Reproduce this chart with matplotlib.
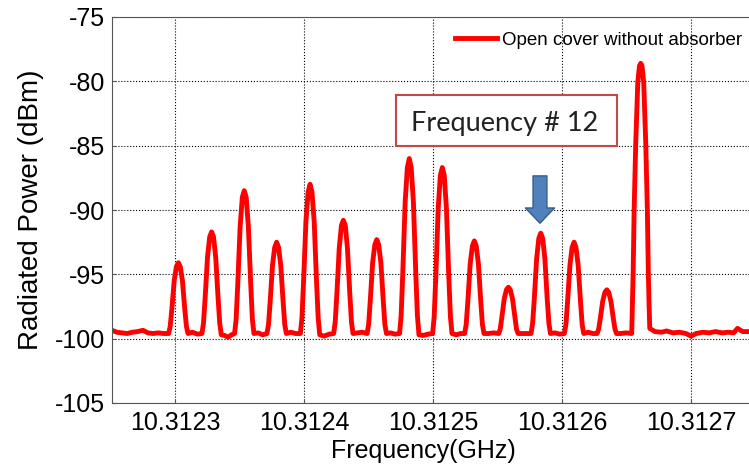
import numpy as np
import matplotlib
matplotlib.use('Agg')
import matplotlib.pyplot as plt
from matplotlib.patches import Rectangle

plt.rcParams['font.family'] = ['Liberation Sans', 'DejaVu Sans']
plt.rcParams['axes.unicode_minus'] = False

# spectrum trace
# frequency as offset from 10.3123 GHz in kHz, power in dBm
f0_ghz = 10.3123
trace = [
  # left noise floor
  (-48.8, -99.35), (-45.0, -99.5), (-41.0, -99.55), (-37.0, -99.6), (-33.0, -99.5), (-29.0, -99.45),
  (-24.8, -99.35), (-21.0, -99.55), (-17.0, -99.6), (-13.0, -99.55), (-9.0, -99.6),
  # peak 1
  (-4.9, -99.6), (-3.7, -99.05), (-2.4, -97.7), (-0.6, -95.5), (1.1, -94.4), (2.6, -94.1),
  (4.1, -94.4), (5.8, -95.5), (7.6, -97.7), (8.9, -99.05), (10.1, -99.6),
  (13.5, -99.5), (17.5, -99.65),
  # peak 2
  (20.9, -99.6), (22.1, -98.8), (23.4, -96.8), (25.2, -93.7), (26.9, -92.1), (28.4, -91.7),
  (29.9, -92.1), (31.6, -93.7), (33.4, -96.8), (34.7, -98.8), (35.9, -99.7),
  (38.5, -99.75), (41.1, -99.9), (43.8, -99.7),
  # peak 3
  (46.2, -99.6), (47.4, -98.5), (48.7, -95.7), (50.5, -91.3), (52.2, -89.0), (53.7, -88.5),
  (55.2, -89.0), (56.9, -91.3), (58.7, -95.7), (60.0, -98.5), (61.2, -99.6),
  (64.5, -99.55), (68.0, -99.7),
  # peak 4
  (71.3, -99.6), (72.5, -98.9), (73.8, -97.1), (75.6, -94.3), (77.3, -92.9), (78.8, -92.5),
  (80.3, -92.9), (82.0, -94.3), (83.8, -97.1), (85.1, -98.9), (86.3, -99.6),
  (89.8, -99.5), (93.5, -99.6),
  # peak 5
  (97.2, -99.6), (98.4, -98.4), (99.7, -95.5), (101.5, -90.9), (103.2, -88.6), (104.7, -88.0),
  (106.2, -88.6), (107.9, -90.9), (109.7, -95.5), (111.0, -98.4), (112.2, -99.7),
  (115.5, -99.8), (119.5, -99.65),
  # peak 6
  (123.0, -99.6), (124.2, -98.7), (125.5, -96.5), (127.3, -93.0), (129.0, -91.2), (130.5, -90.8),
  (132.0, -91.2), (133.7, -93.0), (135.5, -96.5), (136.8, -98.7), (138.0, -99.6),
  (141.5, -99.55), (145.0, -99.5),
  # peak 7
  (148.9, -99.6), (150.1, -98.9), (151.4, -97.0), (153.2, -94.1), (154.9, -92.7), (156.4, -92.3),
  (157.9, -92.7), (159.6, -94.1), (161.4, -97.0), (162.7, -98.9), (163.9, -99.6),
  (167.0, -99.55), (170.5, -99.65),
  # peak 8
  (174.1, -99.6), (175.3, -98.2), (176.6, -94.8), (178.4, -89.4), (180.1, -86.7), (181.6, -86.0),
  (183.1, -86.7), (184.8, -89.4), (186.6, -94.8), (187.9, -98.2), (189.1, -99.7),
  (192.5, -99.75), (196.0, -99.65),
  # peak 9
  (199.7, -99.6), (200.9, -98.3), (202.2, -95.1), (204.0, -89.9), (205.7, -87.3), (207.2, -86.7),
  (208.7, -87.3), (210.4, -89.9), (212.2, -95.1), (213.5, -98.3), (214.7, -99.6),
  (218.0, -99.7), (221.3, -99.6),
  # peak 10
  (224.5, -99.6), (225.7, -98.9), (227.0, -97.1), (228.8, -94.2), (230.5, -92.8), (232.0, -92.4),
  (233.5, -92.8), (235.2, -94.2), (237.0, -97.1), (238.3, -98.9), (239.5, -99.6),
  (243.0, -99.6), (247.0, -99.55),
  # peak 11
  (250.9, -99.6), (252.1, -99.25), (253.4, -98.3), (255.2, -96.9), (256.9, -96.2), (258.4, -96.0),
  (259.9, -96.2), (261.6, -96.9), (263.4, -98.3), (264.7, -99.25), (265.9, -99.6),
  (269.3, -99.6), (272.7, -99.6),
  # peak 12
  (276.0, -99.6), (277.2, -98.8), (278.5, -96.9), (280.3, -93.8), (282.0, -92.2), (283.5, -91.8),
  (285.0, -92.2), (286.7, -93.8), (288.5, -96.9), (289.8, -98.8), (291.0, -99.6),
  (294.5, -99.55), (298.2, -99.65),
  # peak 13
  (301.8, -99.6), (303.0, -98.9), (304.3, -97.1), (306.1, -94.3), (307.8, -92.9), (309.3, -92.5),
  (310.8, -92.9), (312.5, -94.3), (314.3, -97.1), (315.6, -98.9), (316.8, -99.6),
  (320.3, -99.5), (323.8, -99.6),
  # peak 14
  (327.2, -99.6), (328.4, -99.25), (329.7, -98.4), (331.5, -97.1), (333.2, -96.4), (334.7, -96.2),
  (336.2, -96.4), (337.9, -97.1), (339.7, -98.4), (341.0, -99.25), (342.2, -99.6),
  (345.5, -99.6), (349.5, -99.55),
  # peak 15 (strongest)
  (354.0, -99.6), (354.5, -97.5), (355.1, -95.0), (355.9, -89.9), (357.1, -84.9), (358.7, -80.1),
  (360.0, -78.8), (361.0, -78.6), (362.0, -78.8), (363.3, -80.1), (364.9, -84.9), (366.1, -89.9),
  (366.9, -95.0), (367.5, -97.5), (368.0, -99.2),
  # right noise floor
  (372.0, -99.45), (377.0, -99.5), (381.0, -99.4), (386.0, -99.55), (391.0, -99.5), (396.0, -99.6), (400.0, -99.8),
  (404.0, -99.6), (409.0, -99.5), (414.0, -99.55), (419.0, -99.45), (424.0, -99.55), (429.0, -99.5), (433.0, -99.55),
  (436.0, -99.2), (440.0, -99.45), (445.0, -99.45),
]
freq_ghz = f0_ghz + np.array([p[0] for p in trace]) * 1e-6
power_dbm = np.array([p[1] for p in trace])

x_ticks = [10.3123, 10.3124, 10.3125, 10.3126, 10.3127]
x_tick_labels = ['10.3123', '10.3124', '10.3125', '10.3126', '10.3127']
y_ticks = [-105, -100, -95, -90, -85, -80, -75]
series_name = 'Open cover without absorber'
box_text = 'Frequency # 12'
marked_peak_ghz = 10.3125829

fig = plt.figure(figsize=(7.49, 4.71), dpi=100)
ax = fig.add_axes([112/749, 68/471, 637/749, 386/471])

ax.plot(freq_ghz, power_dbm, color='#ff0000', lw=3.5, solid_joinstyle='round', label=series_name)

ax.set_xlim(10.3122512, 10.3127449)
ax.set_ylim(-105, -75)
ax.set_xticks(x_ticks)
ax.set_xticklabels(x_tick_labels)
ax.set_yticks(y_ticks)
ax.tick_params(direction='in', length=3, labelsize=18, color='#555555')
ax.tick_params(axis='x', pad=6)
ax.tick_params(axis='y', pad=5)
ax.grid(True, color='black', linestyle=':', linewidth=0.8)
for s in ['left', 'bottom', 'top']:
  ax.spines[s].set_color('#555555')
ax.spines['right'].set_visible(False)

ax.set_xlabel('Frequency(GHz)', fontsize=18)
ax.xaxis.set_label_coords(0.489, -0.093)
ax.set_ylabel('Radiated Power (dBm)', fontsize=20)
ax.yaxis.set_label_coords(-0.107, 0.5)

ax.legend(loc='center left', bbox_to_anchor=(0.5385, 0.9404), frameon=False, fontsize=13.5,
          borderpad=0, borderaxespad=0, handlelength=2.22, handletextpad=0.27)

# annotation box and arrow
ax.add_patch(Rectangle((10.3124710, -85.05), 0.0001718, 4.0, facecolor='white',
                       edgecolor='#be4b48', lw=1.5, zorder=5))
ax.text(10.3125558, -83.83, box_text, ha='center', va='baseline', fontsize=19.5,
        family=['Lato', 'DejaVu Sans'], color='#222222', zorder=6)
ax.annotate('', xy=(marked_peak_ghz, -91.03), xytext=(marked_peak_ghz, -87.35),
            arrowprops=dict(arrowstyle='simple,head_length=11,head_width=21,tail_width=10',
                            mutation_scale=1, facecolor='#4f81bd', edgecolor='#385d8a',
                            lw=1, shrinkA=0, shrinkB=0), zorder=6)

fig.savefig('out.png', dpi=100)
